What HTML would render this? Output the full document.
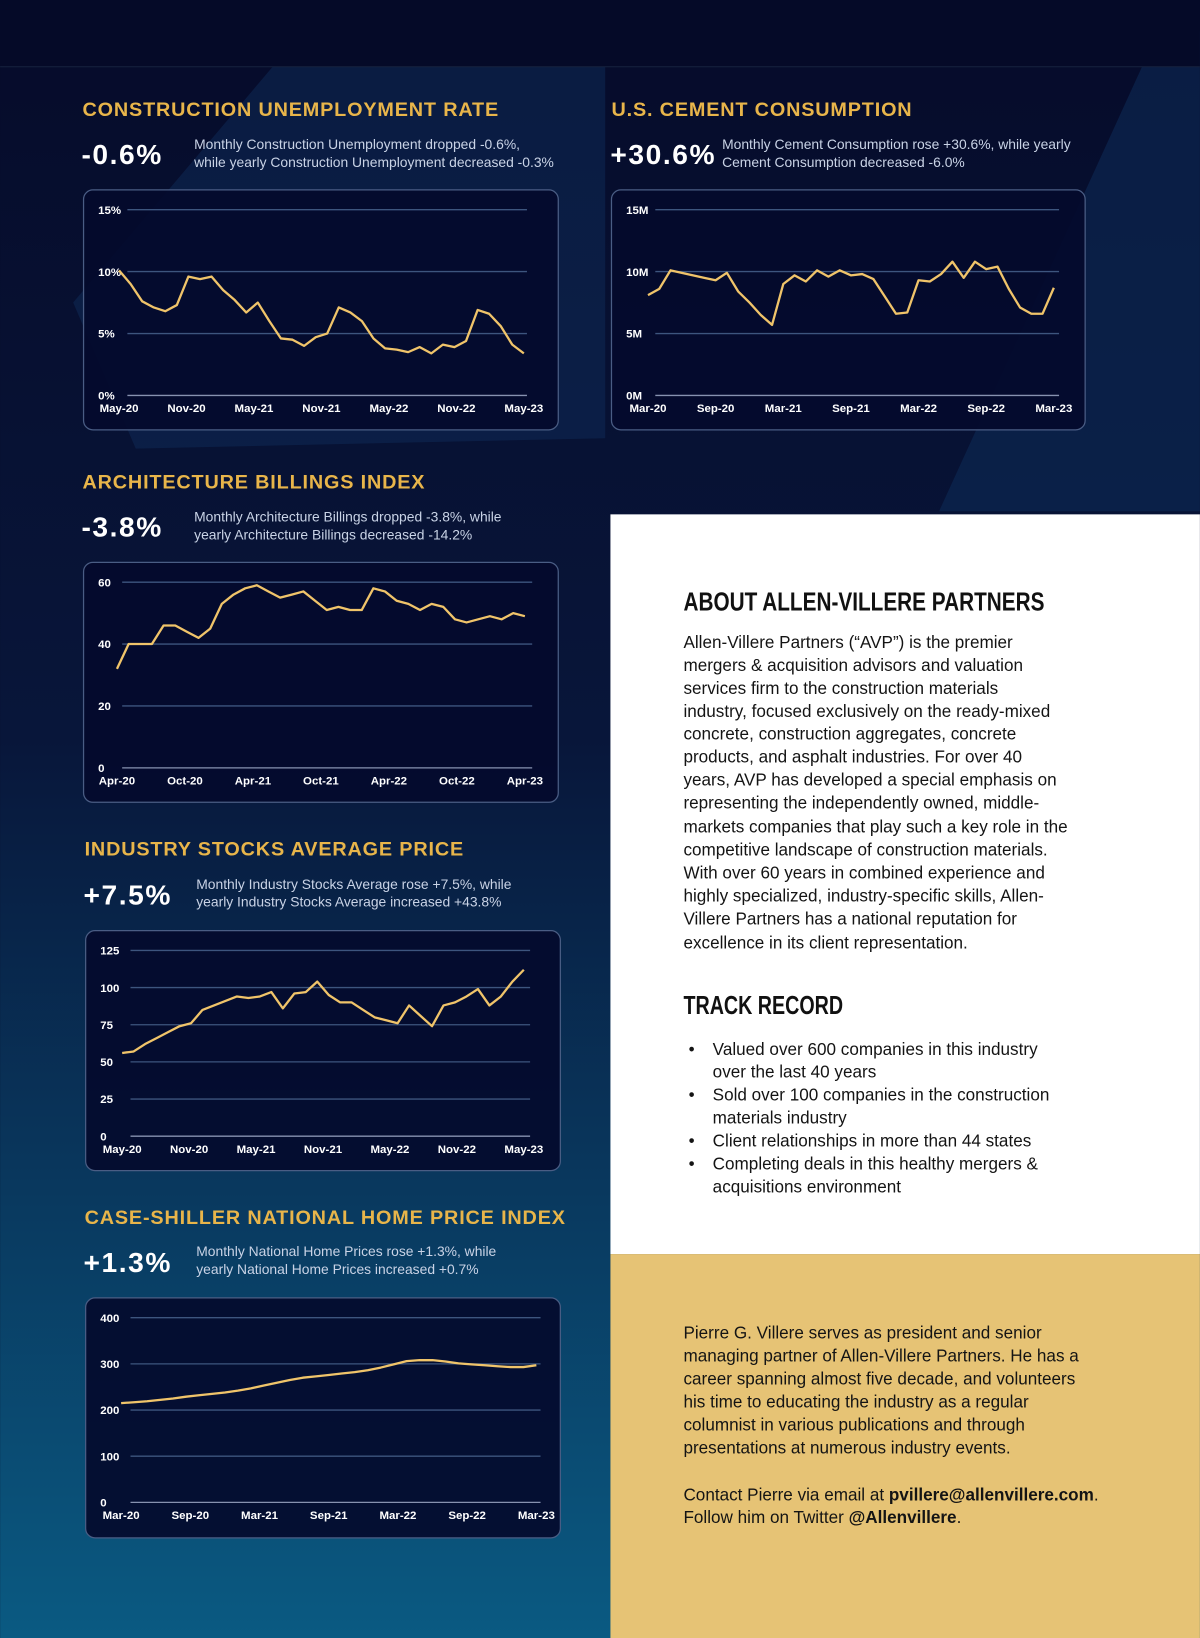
<!DOCTYPE html>
<html><head><meta charset="utf-8">
<style>
html,body{margin:0;padding:0;background:#050a26;}
svg{display:block;}
text{font-family:"Liberation Sans",sans-serif;}
.title{fill:#e8b54a;font-weight:bold;font-size:19px;letter-spacing:0.8px;}
.big{fill:#fff;font-weight:bold;font-size:27px;letter-spacing:1.5px;}
.desc{fill:#c9d3e6;font-size:13.3px;}
.tick{fill:#ffffff;font-size:11px;font-weight:bold;}
.body{fill:#141414;font-size:16.4px;}
.head{fill:#111;font-weight:bold;font-size:25px;}
</style></head>
<body>
<svg id="page" width="1200" height="1638" viewBox="0 0 1150 1570" xmlns="http://www.w3.org/2000/svg">
<defs>
<linearGradient id="bg" x1="0" y1="0" x2="0" y2="1">
<stop offset="0" stop-color="#060b2a"/><stop offset="0.45" stop-color="#08163a"/><stop offset="1" stop-color="#0a5a82"/>
</linearGradient>
</defs>
<rect x="0" y="0" width="1150" height="1570" fill="url(#bg)"/>
<polygon points="290,30 580,30 580,420 130,430 70,290" fill="#0e2a55" opacity="0.55"/>
<polygon points="1110,30 1150,30 1150,490 900,490" fill="#0e2a55" opacity="0.6"/>
<rect x="0" y="0" width="1150" height="64" fill="#050a28"/>
<line x1="0" y1="64" x2="1150" y2="64" stroke="#16223f" stroke-width="1"/>

<g>
<text class="title" x="79" y="111">CONSTRUCTION UNEMPLOYMENT RATE</text>
<text class="big" x="78" y="157">-0.6%</text>
<text class="desc" x="186" y="143">Monthly Construction Unemployment dropped -0.6%,</text>
<text class="desc" x="186" y="160">while yearly Construction Unemployment decreased -0.3%</text>
</g>
<g>
<text class="title" x="586" y="111">U.S. CEMENT CONSUMPTION</text>
<text class="big" x="585" y="157">+30.6%</text>
<text class="desc" x="692" y="143">Monthly Cement Consumption rose +30.6%, while yearly</text>
<text class="desc" x="692" y="160">Cement Consumption decreased -6.0%</text>
</g>
<g>
<text class="title" x="79" y="468">ARCHITECTURE BILLINGS INDEX</text>
<text class="big" x="78" y="514">-3.8%</text>
<text class="desc" x="186" y="500">Monthly Architecture Billings dropped -3.8%, while</text>
<text class="desc" x="186" y="517">yearly Architecture Billings decreased -14.2%</text>
</g>
<g>
<text class="title" x="81" y="820">INDUSTRY STOCKS AVERAGE PRICE</text>
<text class="big" x="80" y="867">+7.5%</text>
<text class="desc" x="188" y="852">Monthly Industry Stocks Average rose +7.5%, while</text>
<text class="desc" x="188" y="869">yearly Industry Stocks Average increased +43.8%</text>
</g>
<g>
<text class="title" x="81" y="1173">CASE-SHILLER NATIONAL HOME PRICE INDEX</text>
<text class="big" x="80" y="1219">+1.3%</text>
<text class="desc" x="188" y="1204">Monthly National Home Prices rose +1.3%, while</text>
<text class="desc" x="188" y="1221">yearly National Home Prices increased +0.7%</text>
</g>

<g id="charts"></g>

<rect x="585" y="493" width="565" height="709" fill="#ffffff"/>
<g>
<text class="head" x="655" y="585" textLength="346" lengthAdjust="spacingAndGlyphs">ABOUT ALLEN-VILLERE PARTNERS</text>
<text class="body" x="655" y="621">Allen-Villere Partners (“AVP”) is the premier</text>
<text class="body" x="655" y="643">mergers &amp; acquisition advisors and valuation</text>
<text class="body" x="655" y="665">services firm to the construction materials</text>
<text class="body" x="655" y="687">industry, focused exclusively on the ready-mixed</text>
<text class="body" x="655" y="709">concrete, construction aggregates, concrete</text>
<text class="body" x="655" y="731">products, and asphalt industries. For over 40</text>
<text class="body" x="655" y="753">years, AVP has developed a special emphasis on</text>
<text class="body" x="655" y="775">representing the independently owned, middle-</text>
<text class="body" x="655" y="798">markets companies that play such a key role in the</text>
<text class="body" x="655" y="820">competitive landscape of construction materials.</text>
<text class="body" x="655" y="842">With over 60 years in combined experience and</text>
<text class="body" x="655" y="864">highly specialized, industry-specific skills, Allen-</text>
<text class="body" x="655" y="886">Villere Partners has a national reputation for</text>
<text class="body" x="655" y="909">excellence in its client representation.</text>
<text class="head" x="655" y="972" textLength="153" lengthAdjust="spacingAndGlyphs">TRACK RECORD</text>
<text class="body" x="660" y="1011">•</text><text class="body" x="683" y="1011">Valued over 600 companies in this industry</text>
<text class="body" x="683" y="1033">over the last 40 years</text>
<text class="body" x="660" y="1055">•</text><text class="body" x="683" y="1055">Sold over 100 companies in the construction</text>
<text class="body" x="683" y="1077">materials industry</text>
<text class="body" x="660" y="1099">•</text><text class="body" x="683" y="1099">Client relationships in more than 44 states</text>
<text class="body" x="660" y="1121">•</text><text class="body" x="683" y="1121">Completing deals in this healthy mergers &amp;</text>
<text class="body" x="683" y="1143">acquisitions environment</text>
</g>
<rect x="585" y="1202" width="565" height="368" fill="#e6c375"/>
<g>
<text class="body" x="655" y="1283">Pierre G. Villere serves as president and senior</text>
<text class="body" x="655" y="1305">managing partner of Allen-Villere Partners. He has a</text>
<text class="body" x="655" y="1327">career spanning almost five decade, and volunteers</text>
<text class="body" x="655" y="1349">his time to educating the industry as a regular</text>
<text class="body" x="655" y="1371">columnist in various publications and through</text>
<text class="body" x="655" y="1393">presentations at numerous industry events.</text>
<text class="body" x="655" y="1438">Contact Pierre via email at <tspan font-weight="bold">pvillere@allenvillere.com</tspan>.</text>
<text class="body" x="655" y="1460">Follow him on Twitter <tspan font-weight="bold">@Allenvillere</tspan>.</text>
</g>
</svg>
<script>
const unempValues=[10.1,9,7.6,7.1,6.8,7.3,9.6,9.4,9.6,8.5,7.7,6.7,7.5,6,4.6,4.5,4,4.7,5,7.1,6.7,6,4.6,3.8,3.7,3.5,3.9,3.4,4.1,3.9,4.4,6.9,6.6,5.6,4.1,3.4];
const unempTicks=["0%","5%","10%","15%"];
const unempCats=["May-20","Nov-20","May-21","Nov-21","May-22","Nov-22","May-23"];
const cementValues=[8.1,8.6,10.1,9.9,9.7,9.5,9.3,9.9,8.4,7.5,6.5,5.7,9,9.7,9.2,10.1,9.6,10.1,9.7,9.8,9.4,8,6.6,6.7,9.3,9.2,9.8,10.8,9.5,10.8,10.2,10.4,8.6,7.1,6.6,6.6,8.7];
const cementTicks=["0M","5M","10M","15M"];
const cementCats=["Mar-20","Sep-20","Mar-21","Sep-21","Mar-22","Sep-22","Mar-23"];
const archValues=[32,40,40,40,46,46,44,42,45,53,56,58,59,57,55,56,57,54,51,52,51,51,58,57,54,53,51,53,52,48,47,48,49,48,50,49];
const archTicks=["0","20","40","60"];
const archCats=["Apr-20","Oct-20","Apr-21","Oct-21","Apr-22","Oct-22","Apr-23"];
const stockValues=[56,57,62,66,70,74,76,85,88,91,94,93,94,97,86,96,97,104,95,90,90,85,80,78,76,88,81,74,88,90,94,99,88,94,104,112];
const stockTicks=["0","25","50","75","100","125"];
const stockCats=["May-20","Nov-20","May-21","Nov-21","May-22","Nov-22","May-23"];
const homeValues=[215,217,219,222,225,229,232,235,238,242,247,253,259,265,270,273,276,279,282,286,292,299,306,308,308,305,301,299,297,295,293,293,297];
const homeTicks=["0","100","200","300","400"];
const homeCats=["Mar-20","Sep-20","Mar-21","Sep-21","Mar-22","Sep-22","Mar-23"];

const NS="http://www.w3.org/2000/svg";
const root=document.getElementById('charts');
function mk(tag,attrs,parent){const e=document.createElementNS(NS,tag);for(const k in attrs)e.setAttribute(k,attrs[k]);parent.appendChild(e);return e;}
function chart(name,box,plot,values,ticks,tickMax,cats,labX0,labX1){
  const g=mk('g',{},root);
  
  
  const r=mk('rect',{x:box[0],y:box[1],width:box[2],height:box[3],rx:9,fill:'#040a2c','fill-opacity':0.92,stroke:'#4a5d84','stroke-width':1.2},g);
  
  
  const [gx0,gx1,yTop,yBot]=plot;
  const yS=v=>yBot-(v/tickMax)*(yBot-yTop);
  const tickVals=ticks.map((t,i)=>i*tickMax/(ticks.length-1));
  tickVals.forEach((v,i)=>{
    const y=yS(v);
    const l=mk('line',{x1:gx0,x2:gx1,y1:y,y2:y,stroke:i===0?'#8792b0':'#3d557e','stroke-width':1.3},g);
    
    
    const t=mk('text',{x:box[0]+14,y:y+4,class:'tick'},g);t.textContent=ticks[i];
    
    
  });
  cats.forEach((c,i)=>{
    const x=labX0+(labX1-labX0)*i/(cats.length-1);
    const t=mk('text',{x:x,y:yBot+16,class:'tick','text-anchor':'middle'},g);t.textContent=c;
    
    
  });
  const n=values.length;
  const xS=i=>labX0+(labX1-labX0)*i/(n-1);
  const pts=values.map((v,i)=>xS(i).toFixed(1)+','+yS(v).toFixed(1)).join(' ');
  const p=mk('polyline',{points:pts,fill:'none',stroke:'#f0c46a','stroke-width':2.2,'stroke-linejoin':'round'},g);
  
  
}
chart('unemployment-chart',[80,182,455,230],[122,505,201,379],unempValues,unempTicks,15,unempCats,114,502);
chart('cement-chart',[586,182,454,230],[628,1015,201,379],cementValues,cementTicks,15,cementCats,621,1010);
chart('architecture-chart',[80,539,455,230],[117,510,558,736],archValues,archTicks,60,archCats,112,503);
chart('stocks-chart',[82,892,455,230],[125,508,911,1089],stockValues,stockTicks,125,stockCats,117,502);
chart('home-price-chart',[82,1244,455,230],[125,518,1263,1440],homeValues,homeTicks,400,homeCats,116,514);
</script>
</body></html>
